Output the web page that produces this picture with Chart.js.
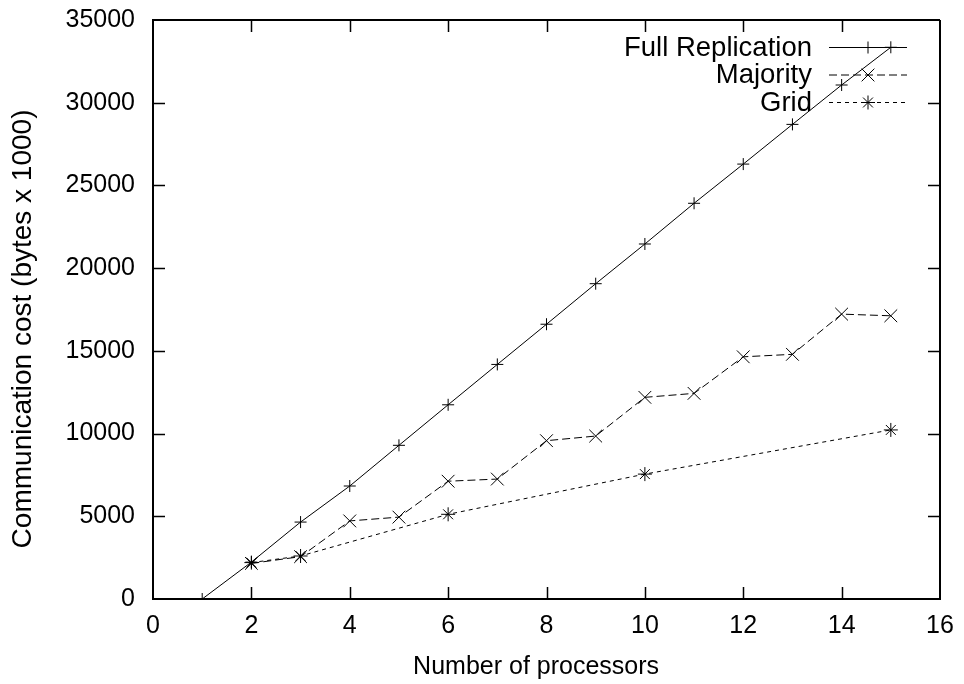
<!DOCTYPE html>
<html>
<head>
<meta charset="utf-8">
<script src="https://cdn.jsdelivr.net/npm/chart.js@4/dist/chart.umd.min.js"></script>
<style>
  html, body { margin: 0; padding: 0; background: #fff; }
  #wrap { width: 964px; height: 684px; }
</style>
</head>
<body>
<div id="wrap"><canvas id="cost"></canvas></div>
<script>
// Communication cost vs number of processors (gnuplot style)

var fullProcs = [1, 2, 3, 4, 5, 6, 7, 8, 9, 10, 11, 12, 13, 14, 15];
var fullCost = [0, 2230, 4650, 6830, 9290, 11740, 14180, 16610, 19060, 21460, 23920, 26290, 28690, 31070, 33350];

var majorityProcs = [2, 3, 4, 5, 6, 7, 8, 9, 10, 11, 12, 13, 14, 15];
var majorityCost = [2150, 2560, 4720, 4950, 7120, 7250, 9570, 9850, 12190, 12430, 14640, 14790, 17220, 17120];

var gridProcs = [2, 3, 6, 10, 15];
var gridCost = [2200, 2600, 5120, 7550, 10220];

var xTicks = [0, 2, 4, 6, 8, 10, 12, 14, 16];
var yTicks = [0, 5000, 10000, 15000, 20000, 25000, 30000, 35000];

var FONT = "'Liberation Sans', Arial, sans-serif";

function toPoints(xs, ys) {
  return xs.map(function (x, i) { return { x: x, y: ys[i] }; });
}

// gnuplot-like frame: top/right border and inward ticks on all four sides
var framePlugin = {
  id: 'frame',
  afterDraw: function (chart) {
    var ctx = chart.ctx, a = chart.chartArea;
    var xs = chart.scales.x, ys = chart.scales.y;
    var tl = 12;
    ctx.save();
    ctx.strokeStyle = '#000';
    ctx.lineWidth = 2;
    ctx.beginPath();
    ctx.moveTo(a.left, a.top); ctx.lineTo(a.right, a.top);
    ctx.moveTo(a.right, a.top); ctx.lineTo(a.right, a.bottom);
    ctx.stroke();
    ctx.lineWidth = 1.5;
    ctx.beginPath();
    xTicks.forEach(function (v) {
      var px = Math.round(xs.getPixelForValue(v)) + 0.5;
      if (v === xTicks[0] || v === xTicks[xTicks.length - 1]) return;
      ctx.moveTo(px, a.bottom); ctx.lineTo(px, a.bottom - tl);
      ctx.moveTo(px, a.top); ctx.lineTo(px, a.top + tl);
    });
    yTicks.forEach(function (v) {
      var py = Math.round(ys.getPixelForValue(v)) + 0.5;
      if (v === yTicks[0] || v === yTicks[yTicks.length - 1]) return;
      ctx.moveTo(a.left, py); ctx.lineTo(a.left + tl, py);
      ctx.moveTo(a.right, py); ctx.lineTo(a.right - tl, py);
    });
    ctx.stroke();
    ctx.restore();
  }
};

// key in the top right corner: title on the left, sample on the right
var keyPlugin = {
  id: 'key',
  afterDatasetsDraw: function (chart) {
    var ctx = chart.ctx, a = chart.chartArea;
    ctx.save();
    ctx.font = '27.5px ' + FONT;
    ctx.textAlign = 'right';
    ctx.textBaseline = 'middle';
    chart.data.datasets.forEach(function (ds, i) {
      var y = a.top + 27 + i * 27.5;
      var x1 = a.right - 111, x2 = a.right - 33;
      ctx.fillStyle = '#000';
      ctx.fillText(ds.label, a.right - 128, y + 1);
      ctx.strokeStyle = ds.borderColor;
      ctx.lineWidth = ds.borderWidth;
      ctx.setLineDash(ds.borderDash || []);
      ctx.beginPath();
      ctx.moveTo(x1, y + 0.5); ctx.lineTo(x2, y + 0.5);
      ctx.stroke();
      ctx.setLineDash([]);
      Chart.helpers.drawPoint(ctx, {
        pointStyle: ds.pointStyle,
        radius: ds.pointRadius,
        borderWidth: 1
      }, (x1 + x2) / 2, y + 0.5);
    });
    ctx.restore();
  }
};

Chart.defaults.font.family = FONT;
Chart.defaults.color = '#000';

new Chart(document.getElementById('cost'), {
  type: 'line',
  data: {
    datasets: [{
      label: 'Full Replication',
      data: toPoints(fullProcs, fullCost),
      borderColor: '#000',
      borderWidth: 1,
      pointStyle: 'cross',
      pointRadius: 6,
      pointBorderColor: '#000',
      pointBorderWidth: 1
    }, {
      label: 'Majority',
      data: toPoints(majorityProcs, majorityCost),
      borderColor: '#000',
      borderWidth: 1,
      borderDash: [8, 4],
      pointStyle: 'crossRot',
      pointRadius: 9,
      pointBorderColor: '#000',
      pointBorderWidth: 1
    }, {
      label: 'Grid',
      data: toPoints(gridProcs, gridCost),
      borderColor: '#000',
      borderWidth: 1,
      borderDash: [4, 4],
      pointStyle: 'star',
      pointRadius: 7,
      pointBorderColor: '#000',
      pointBorderWidth: 1
    }]
  },
  options: {
    responsive: true,
    maintainAspectRatio: false,
    animation: false,
    layout: { padding: { top: 20, right: 24, left: 0, bottom: 0 } },
    plugins: {
      legend: { display: false },
      tooltip: { enabled: false }
    },
    elements: { line: { tension: 0, fill: false } },
    scales: {
      x: {
        type: 'linear',
        min: 0,
        max: 16,
        afterBuildTicks: function (s) { s.ticks = xTicks.map(function (v) { return { value: v }; }); },
        afterFit: function (s) { s.height = 85; s.paddingLeft = 0; s.paddingRight = 0; },
        grid: { display: false, drawTicks: false },
        border: { display: true, color: '#000', width: 2 },
        ticks: { font: { size: 25 }, padding: 12, maxRotation: 0, callback: function (v) { return String(v); } },
        title: {
          display: true,
          text: 'Number of processors   ',
          font: { size: 25 },
          padding: { top: 0, bottom: 2 }
        }
      },
      y: {
        min: 0,
        max: 35000,
        afterBuildTicks: function (s) { s.ticks = yTicks.map(function (v) { return { value: v }; }); },
        afterFit: function (s) { s.width = 153; s.paddingTop = 0; s.paddingBottom = 0; },
        grid: { display: false, drawTicks: false },
        border: { display: true, color: '#000', width: 2 },
        ticks: { font: { size: 25 }, padding: 18, callback: function (v) { return String(v); } },
        title: {
          display: true,
          text: 'Communication cost (bytes x 1000)     ',
          font: { size: 28 },
          padding: { top: 6, bottom: 0 }
        }
      }
    }
  },
  plugins: [framePlugin, keyPlugin]
});
</script>
</body>
</html>
